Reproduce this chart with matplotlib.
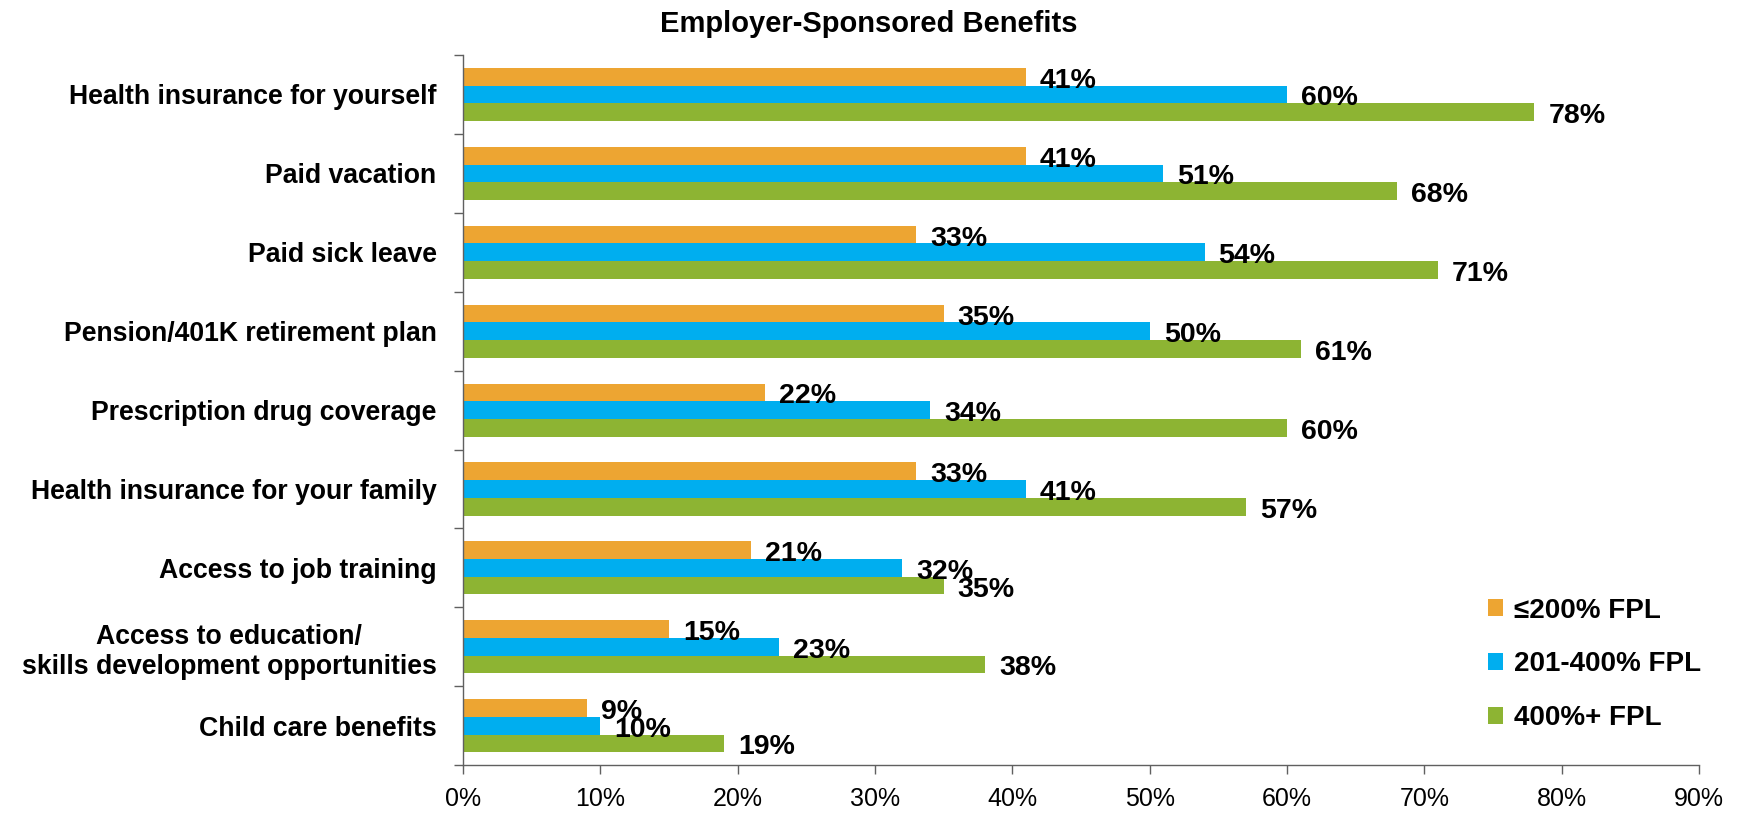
import matplotlib
matplotlib.use("Agg")
import matplotlib.pyplot as plt
import numpy as np

categories = [
    "Health insurance for yourself",
    "Paid vacation",
    "Paid sick leave",
    "Pension/401K retirement plan",
    "Prescription drug coverage",
    "Health insurance for your family",
    "Access to job training",
    "Access to education/\nskills development opportunities",
    "Child care benefits",
]
series_names = ["\u2264200% FPL", "201-400% FPL", "400%+ FPL"]
low_income = [41, 41, 33, 35, 22, 33, 21, 15, 9]
mid_income = [60, 51, 54, 50, 34, 41, 32, 23, 10]
high_income = [78, 68, 71, 61, 60, 57, 35, 38, 19]
x_ticks = [0, 10, 20, 30, 40, 50, 60, 70, 80, 90]

colors = ["#EDA532", "#00AEEF", "#8DB433"]

plt.rcParams['font.family'] = ['Liberation Sans', 'DejaVu Sans']

fig = plt.figure(figsize=(17.38, 8.21), dpi=100)
ax = fig.add_axes([0.2664, 0.068, 0.7112, 0.865])

y = np.arange(len(categories))
h = 0.224
for i, (vals, col, name) in enumerate(zip([low_income, mid_income, high_income], colors, series_names)):
    pos = y - h + i * h
    bars = ax.barh(pos, vals, height=h, color=col, label=name, edgecolor="none")
    for b, v in zip(bars, vals):
        ax.annotate(f"{v}%", (b.get_width(), b.get_y() + b.get_height() / 2),
                    xytext=(14, -4), textcoords="offset pixels",
                    ha="left", va="center", fontsize=20.5, fontweight="bold")

ax.set_xlim(0, 90)
ax.set_ylim(len(categories) - 0.5, -0.5)

ax.set_xticks(x_ticks)
ax.set_xticklabels([f"{t}%" for t in x_ticks], fontsize=18)
ax.tick_params(axis="x", length=6.5, width=1, color="#606060", pad=9)

ax.set_yticks(y)
ax.set_yticklabels(categories, fontsize=19.2, fontweight="bold")
for lab in ax.get_yticklabels():
    lab.set_multialignment("center")
ax.tick_params(axis="y", which="major", length=0, pad=19)
ax.set_yticks(np.arange(len(categories) + 1) - 0.5, minor=True)
ax.tick_params(axis="y", which="minor", length=6.5, width=1, color="#606060")

for s in ["top", "right"]:
    ax.spines[s].set_visible(False)
for s in ["left", "bottom"]:
    ax.spines[s].set_color("#606060")
    ax.spines[s].set_linewidth(1)

fig.suptitle("Employer-Sponsored Benefits", x=0.5, y=0.988, fontsize=21, fontweight="bold")

ax.legend(loc="center left", bbox_to_anchor=(0.818, 0.142), frameon=False, borderpad=0,
          prop={"size": 20, "weight": "bold"}, handlelength=0.55, handleheight=0.55,
          labelspacing=1.0, handletextpad=0.4)

fig.savefig("out.png", dpi=100)
